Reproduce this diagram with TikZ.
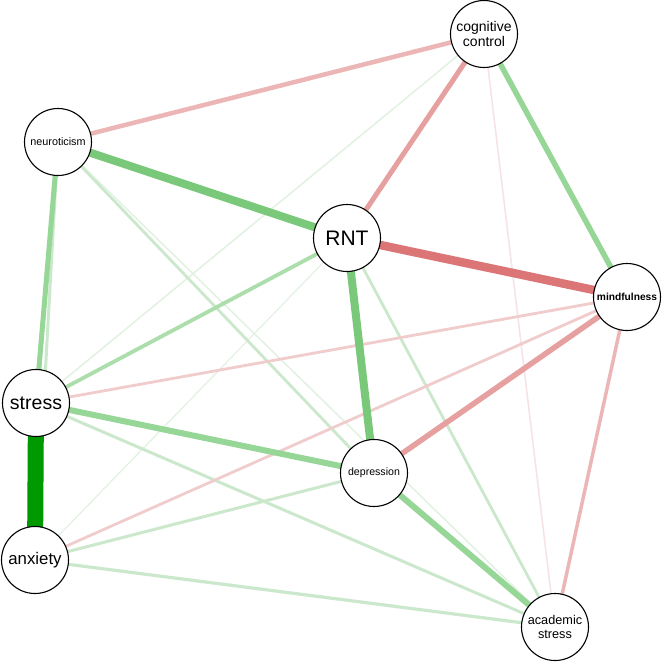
\documentclass[tikz,border=0pt]{standalone}
\usepackage{fontspec}
\setmainfont{Liberation Sans}
\begin{document}
\begin{tikzpicture}[x=1pt,y=-1pt,
  nd/.style={circle,draw=black,line width=1.1pt,fill=white,minimum size=67pt,inner sep=0pt,align=center,text=black},
  e/.style={line width=#1},
]
\definecolor{gDark}{RGB}{0,153,0}
\definecolor{gMed}{RGB}{122,200,122}
\definecolor{gLt}{RGB}{150,214,150}
\definecolor{gLt2}{RGB}{172,222,172}
\definecolor{gPale}{RGB}{204,232,204}
\definecolor{gFaint}{RGB}{226,242,226}
\definecolor{rStrong}{RGB}{220,118,118}
\definecolor{rMed}{RGB}{230,160,160}
\definecolor{rLt}{RGB}{236,182,182}
\definecolor{rPale}{RGB}{240,204,204}
\definecolor{rFaint}{RGB}{246,226,226}
\useasboundingbox (0,0) rectangle (662,662);
\fill[white] (0,0) rectangle (662,662);
\coordinate (pcog) at (484,34);
\coordinate (pneu) at (58,142);
\coordinate (prnt) at (347,238);
\coordinate (pmin) at (627,297);
\coordinate (pstr) at (36,403);
\coordinate (pdep) at (374,473);
\coordinate (panx) at (35,560);
\coordinate (paca) at (555,627);
% edges
\draw[gFaint,e=1.5pt] (pcog) -- (pstr);
\draw[gFaint,e=1.5pt] (pneu) -- (paca);
\draw[gFaint,e=1.2pt] (prnt) -- (panx);
\draw[gPale,e=3pt] (pneu) -- (panx);
\draw[rFaint,e=1.5pt] (pcog) -- (paca);
\draw[gPale,e=2.8pt] (pneu) -- (pdep);
\draw[gPale,e=2.8pt] (prnt) -- (paca);
\draw[gPale,e=3pt] (pstr) -- (paca);
\draw[gPale,e=3pt] (panx) -- (pdep);
\draw[gPale,e=3.2pt] (panx) -- (paca);
\draw[rPale,e=2.8pt] (pstr) -- (pmin);
\draw[rPale,e=2.8pt] (panx) -- (pmin);
\draw[rLt,e=3.5pt] (pmin) -- (paca);
\draw[rLt,e=4.5pt] (pcog) -- (pneu);
\draw[rMed,e=5pt] (pcog) -- (prnt);
\draw[rMed,e=5.5pt] (pdep) -- (pmin);
\draw[gLt2,e=3.8pt] (prnt) -- (pstr);
\draw[gLt,e=5.5pt] (pcog) -- (pmin);
\draw[gLt,e=5pt] (pneu) -- (pstr);
\draw[gLt,e=6pt] (pstr) -- (pdep);
\draw[gLt,e=6pt] (pdep) -- (paca);
\draw[gMed,e=8pt] (pneu) -- (prnt);
\draw[gMed,e=8pt] (prnt) -- (pdep);
\draw[rStrong,e=8.5pt] (prnt) -- (pmin);
\draw[gDark,e=16pt] (pstr) -- (panx);
% nodes
\node[nd,font=\fontsize{14}{15}\selectfont] (cog) at (pcog) {cognitive\\control};
\node[nd,font=\fontsize{10.8}{12}\selectfont] (neu) at (pneu) {neuroticism};
\node[nd,font=\fontsize{21}{23}\selectfont] (rnt) at (prnt) {RNT};
\node[nd,font=\fontsize{10.2}{12}\selectfont\bfseries] (min) at (pmin) {mindfulness};
\node[nd,font=\fontsize{19.5}{21}\selectfont] (str) at (pstr) {stress};
\node[nd,font=\fontsize{10.6}{12}\selectfont] (dep) at (pdep) {depression};
\node[nd,font=\fontsize{16.8}{18}\selectfont] (anx) at (panx) {anxiety};
\node[nd,font=\fontsize{12.7}{14}\selectfont] (aca) at (paca) {academic\\stress};
\end{tikzpicture}
\end{document}
